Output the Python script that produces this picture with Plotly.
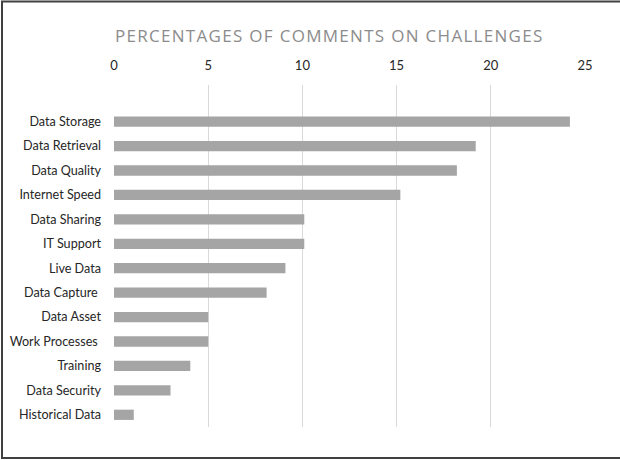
import plotly.graph_objects as go

categories = ["Data Storage", "Data Retrieval", "Data Quality", "Internet Speed",
              "Data Sharing", "IT Support", "Live Data", "Data Capture ",
              "Data Asset", "Work Processes ", "Training", "Data Security",
              "Historical Data"]
values = [24.2, 19.2, 18.2, 15.2, 10.1, 10.1, 9.1, 8.1, 5.0, 5.0, 4.05, 3.0, 1.05]
x_ticks = [0, 5, 10, 15, 20, 25]
title_text = "PERCENTAGES OF COMMENTS ON CHALLENGES"

W, H = 620, 460
L, R, T, B = 114, 35, 85, 33
pw, ph = W - L - R, H - T - B

def px_x(p):
    return (p - L) / pw

def px_y(p):
    return (H - B - p) / ph

fig = go.Figure(go.Bar(
    x=values, y=categories, orientation="h",
    marker=dict(color="#a5a5a5", line=dict(color="#a5a5a5", width=0)),
    width=0.42,
))

label_font = "Lato, Liberation Sans, sans-serif"

fig.update_layout(
    width=W, height=H,
    margin=dict(l=L, r=R, t=T, b=B, autoexpand=False),
    paper_bgcolor="white", plot_bgcolor="white",
    showlegend=False,
    font=dict(family=label_font, size=13, color="#262626"),
    xaxis=dict(side="top", range=[0, 25], tickvals=x_ticks, automargin=False,
               showgrid=True, gridcolor="#d9d9d9", gridwidth=1,
               zeroline=False, showline=False, ticks="",
               tickfont=dict(family=label_font, size=13, color="#262626"),
               ticklabelstandoff=11),
    yaxis=dict(type="category", categoryorder="array", categoryarray=categories,
               range=[12.5, -1.5], showgrid=False, zeroline=False, automargin=False,
               showline=False, ticks="", ticklabelstandoff=12,
               tickfont=dict(family=label_font, size=12.6, color="#262626")),
    annotations=[dict(
        text=title_text, xref="paper", yref="paper",
        x=px_x(329), y=px_y(35), xanchor="center", yanchor="middle",
        showarrow=False,
        font=dict(family="Open Sans, sans-serif", size=17, color="#8c8c8c"),
    )],
    shapes=[dict(
        type="rect", xref="paper", yref="paper",
        x0=px_x(2), x1=px_x(621), y0=px_y(458), y1=px_y(1.5),
        line=dict(color="#404040", width=2), fillcolor="rgba(0,0,0,0)",
        layer="below",
    )],
)

post = """
document.body.style.margin = '0';
document.body.style.padding = '0';
document.documentElement.style.overflow = 'hidden';
var ts = document.querySelectorAll('.annotation-text');
ts.forEach(function(t){ t.style.letterSpacing = '1.3px'; });
"""

fig.write_html("out.html", post_script=post, config={"displayModeBar": False})
